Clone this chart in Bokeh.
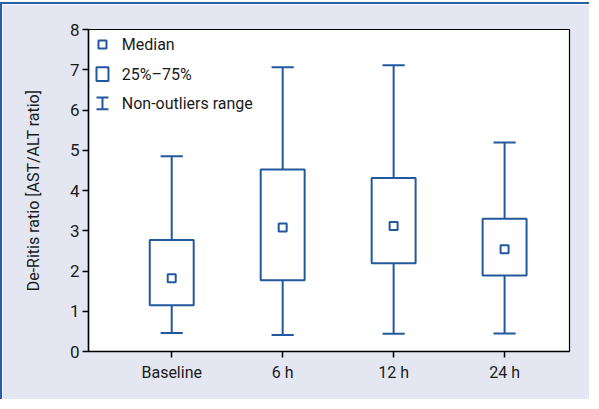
from bokeh.plotting import figure
from bokeh.models import FixedTicker, Label, Range1d
from bokeh.embed import file_html
from bokeh.resources import INLINE

# ---- data ----
categories = ["Baseline", "6 h", "12 h", "24 h"]
whisker_low = [0.46, 0.41, 0.44, 0.45]
q1 = [1.15, 1.77, 2.19, 1.89]
median = [1.82, 3.08, 3.12, 2.54]
q3 = [2.77, 4.52, 4.31, 3.30]
whisker_high = [4.85, 7.06, 7.11, 5.19]
y_ticks = [0, 1, 2, 3, 4, 5, 6, 7, 8]
legend_labels = ["Median", "25%\u201375%", "Non-outliers range"]

BLUE = "#22589e"
BG = "#e4e7f2"
FONT = "Roboto"

xs = list(range(1, len(categories) + 1))
half_box = 0.198
half_cap = 0.1

p = figure(width=589, height=397, output_backend="svg", toolbar_location=None,
           x_range=Range1d(0.25, 4.585), y_range=Range1d(0, 8),
           min_border_left=86, min_border_right=22, min_border_top=25, min_border_bottom=50,
           background_fill_color="white", border_fill_color=BG)
p.styles = {"border-top": "2px solid #2b5ea8", "border-left": "2px solid #2b5ea8",
            "margin-top": "2px"}
p.xgrid.visible = False
p.ygrid.visible = False
p.outline_line_color = "black"
p.outline_line_width = 1.2

# whiskers
p.segment(x0=xs, y0=q3, x1=xs, y1=whisker_high, line_color=BLUE, line_width=2)
p.segment(x0=xs, y0=whisker_low, x1=xs, y1=q1, line_color=BLUE, line_width=2)
p.segment(x0=[x - half_cap for x in xs], y0=whisker_high, x1=[x + half_cap for x in xs], y1=whisker_high,
          line_color=BLUE, line_width=2)
p.segment(x0=[x - half_cap for x in xs], y0=whisker_low, x1=[x + half_cap for x in xs], y1=whisker_low,
          line_color=BLUE, line_width=2)
# boxes
p.quad(left=[x - half_box for x in xs], right=[x + half_box for x in xs], bottom=q1, top=q3,
       fill_color="white", line_color=BLUE, line_width=2)
# medians
p.scatter(x=xs, y=median, marker="square", size=8, fill_color="white", line_color=BLUE, line_width=2)

# legend (manual)
p.scatter(x=[0.376], y=[7.63], marker="square", size=8, fill_color="white", line_color=BLUE, line_width=2)
p.quad(left=[0.322], right=[0.43], bottom=[6.72], top=[7.06], fill_color="white", line_color=BLUE, line_width=2)
p.segment(x0=[0.376], y0=[6.02], x1=[0.376], y1=[6.31], line_color=BLUE, line_width=2)
p.segment(x0=[0.322, 0.322], y0=[6.02, 6.31], x1=[0.43, 0.43], y1=[6.02, 6.31], line_color=BLUE, line_width=2)
for lab, ly in zip(legend_labels, [7.62, 6.87, 6.16]):
    p.add_layout(Label(x=0.55, y=ly, text=lab, text_font=FONT, text_font_size="16px",
                       text_baseline="middle", text_color="#1a1a1a"))

# axes
p.xaxis.ticker = FixedTicker(ticks=xs)
p.xaxis.major_label_overrides = {x: c for x, c in zip(xs, categories)}
p.yaxis.ticker = FixedTicker(ticks=y_ticks)
for ax in (p.xaxis[0], p.yaxis[0]):
    ax.axis_line_color = "black"
    ax.axis_line_width = 1.5
    ax.major_tick_line_color = "black"
    ax.major_tick_line_width = 1.5
    ax.major_tick_out = 6
    ax.major_tick_in = 0
    ax.minor_tick_line_color = None
    ax.major_label_text_font = FONT
    ax.major_label_text_font_size = "17px"
    ax.major_label_text_color = "#1a1a1a"
    ax.major_label_standoff = 3
p.xaxis.major_label_text_font_size = "16px"
p.xaxis.major_label_standoff = 5
p.yaxis.axis_label = "De-Ritis ratio [AST/ALT ratio]"
p.yaxis.axis_label_text_font = FONT
p.yaxis.axis_label_text_font_size = "16px"
p.yaxis.axis_label_text_font_style = "normal"
p.yaxis.axis_label_text_color = "#1a1a1a"
p.yaxis.axis_label_standoff = 24

open("out.html", "w").write(file_html(p, INLINE))
